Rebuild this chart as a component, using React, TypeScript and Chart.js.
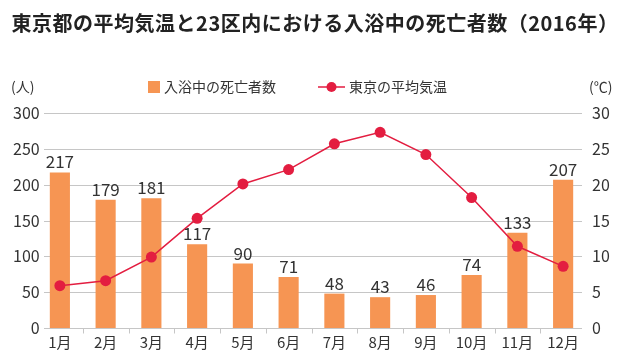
import React, { useEffect, useRef } from "react";
import { Chart, registerables } from "chart.js";

Chart.register(...registerables);

const months = ["1月", "2月", "3月", "4月", "5月", "6月", "7月", "8月", "9月", "10月", "11月", "12月"];
const deaths = [217, 179, 181, 117, 90, 71, 48, 43, 46, 74, 133, 207];
const temps = [5.9, 6.6, 9.9, 15.3, 20.1, 22.1, 25.7, 27.3, 24.2, 18.2, 11.4, 8.6];
const deathTicks = [0, 50, 100, 150, 200, 250, 300];
const title = "東京都の平均気温と23区内における入浴中の死亡者数（2016年）";
const barLabel = "入浴中の死亡者数";
const lineLabel = "東京の平均気温";
const leftUnit = "(人)";
const rightUnit = "(℃)";

const FONT = '"Noto Sans CJK JP", "Noto Sans", sans-serif';
const BAR_COLOR = "#F69553";
const LINE_COLOR = "#E31D40";
const TEXT = "#333333";
const GRID = "#c6c6c6";

const decor = {
  id: "decor",
  beforeDatasetsDraw(chart: any) {
    const ctx = chart.ctx;
    const { chartArea, scales } = chart;
    const gl = chartArea.left + 7;
    const gr = chartArea.right - 4;
    ctx.save();
    ctx.strokeStyle = GRID;
    ctx.lineWidth = 1;
    deathTicks.forEach((v) => {
      const y = Math.round(scales.y.getPixelForValue(v)) + 0.5;
      ctx.beginPath();
      ctx.moveTo(gl, y);
      ctx.lineTo(gr, y);
      ctx.stroke();
    });
    const yb = Math.round(scales.y.getPixelForValue(0)) + 0.5;
    for (let i = 1; i < months.length; i++) {
      const x = Math.round((scales.x.getPixelForValue(i - 1) + scales.x.getPixelForValue(i)) / 2) + 0.5;
      ctx.beginPath();
      ctx.moveTo(x, yb);
      ctx.lineTo(x, yb + 5);
      ctx.stroke();
    }
    ctx.restore();
  },
  afterDatasetsDraw(chart: any) {
    const ctx = chart.ctx;
    ctx.save();
    const meta = chart.getDatasetMeta(0);
    ctx.font = `17px ${FONT}`;
    ctx.fillStyle = TEXT;
    ctx.textAlign = "center";
    ctx.textBaseline = "alphabetic";
    meta.data.forEach((bar: any, i: number) => {
      ctx.fillText(String(deaths[i]), bar.x, bar.y - 4);
    });
    ctx.restore();
  },
  afterDraw(chart: any) {
    const ctx = chart.ctx;
    ctx.save();
    ctx.font = `bold 20px ${FONT}`;
    ctx.fillStyle = "#222222";
    ctx.textAlign = "center";
    ctx.textBaseline = "middle";
    (ctx as any).letterSpacing = "0.5px";
    ctx.fillText(title, 315, 23);
    (ctx as any).letterSpacing = "0px";
    ctx.font = `14px ${FONT}`;
    ctx.fillStyle = TEXT;
    ctx.textAlign = "left";
    ctx.fillText(leftUnit, 11, 87);
    ctx.fillText(rightUnit, 589, 87);
    ctx.fillStyle = BAR_COLOR;
    ctx.fillRect(148, 81, 12, 12);
    ctx.fillStyle = TEXT;
    ctx.fillText(barLabel, 164, 87);
    ctx.strokeStyle = LINE_COLOR;
    ctx.lineWidth = 1.5;
    ctx.beginPath();
    ctx.moveTo(318, 87);
    ctx.lineTo(345, 87);
    ctx.stroke();
    ctx.fillStyle = LINE_COLOR;
    ctx.beginPath();
    ctx.arc(331.5, 87, 5, 0, Math.PI * 2);
    ctx.fill();
    ctx.fillStyle = TEXT;
    ctx.fillText(lineLabel, 349, 87);
    ctx.restore();
  },
};

export default function App() {
  const ref = useRef<HTMLCanvasElement>(null);
  useEffect(() => {
    const chart = new Chart(ref.current!, {
      type: "bar",
      data: {
        labels: months,
        datasets: [
          {
            type: "bar",
            label: barLabel,
            data: deaths,
            backgroundColor: BAR_COLOR,
            yAxisID: "y",
            categoryPercentage: 1,
            barPercentage: 0.44,
            order: 2,
          },
          {
            type: "line",
            label: lineLabel,
            data: temps,
            borderColor: LINE_COLOR,
            backgroundColor: LINE_COLOR,
            borderWidth: 1.5,
            pointRadius: 5.5,
            pointHoverRadius: 5.5,
            pointBackgroundColor: LINE_COLOR,
            pointBorderWidth: 0,
            yAxisID: "y1",
            tension: 0,
            order: 1,
          },
        ],
      },
      options: {
        responsive: false,
        animation: false,
        layout: { padding: { top: 113, left: 0, right: 0, bottom: 0 } },
        plugins: {
          legend: { display: false },
          title: { display: false },
          tooltip: { enabled: false },
        },
        scales: {
          x: {
            grid: { display: false },
            border: { display: false },
            ticks: { color: TEXT, font: { family: FONT, size: 15 }, padding: -3, maxRotation: 0 },
            afterFit: (s: any) => { s.height = 30; },
          },
          y: {
            position: "left",
            min: 0,
            max: 300,
            ticks: {
              stepSize: 50,
              color: TEXT,
              font: { family: FONT, size: 16 },
              mirror: true,
              crossAlign: "far",
              padding: -24,
            },
            grid: { display: false, drawTicks: false },
            border: { display: false },
            afterFit: (s: any) => { s.width = 37; },
          },
          y1: {
            position: "right",
            min: 0,
            max: 30,
            ticks: { stepSize: 5, color: TEXT, font: { family: FONT, size: 16 }, padding: 6 },
            grid: { display: false, drawTicks: false },
            border: { display: false },
            afterFit: (s: any) => { s.width = 41; },
          },
        },
      },
      plugins: [decor],
    });
    return () => chart.destroy();
  }, []);
  return (
    <div style={{ position: "fixed", left: 0, top: 0, width: 627, height: 358, background: "#fff" }}>
      <canvas ref={ref} width={627} height={358} style={{ display: "block" }} />
    </div>
  );
}
